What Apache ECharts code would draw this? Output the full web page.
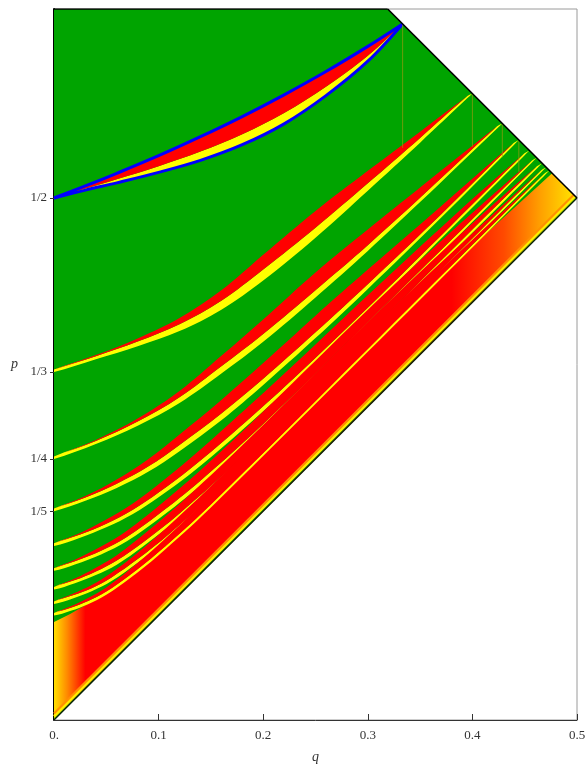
<!DOCTYPE html>
<html><head><meta charset="utf-8">
<script src="https://cdn.jsdelivr.net/npm/echarts@6/dist/echarts.min.js"></script>
<style>html,body{margin:0;padding:0;background:#fff}#c{width:587px;height:768px}</style>
</head><body><div id="c"></div>
<script>
// ---- axes ----
const xTickValues = [0, 0.1, 0.2, 0.3, 0.4, 0.5];
const xTickLabels = ['0.', '0.1', '0.2', '0.3', '0.4', '0.5'];
const yTickValues = [0.5, 0.33333, 0.25, 0.2];
const yTickLabels = ['1/2', '1/3', '1/4', '1/5'];
const pMax = 0.681;

// ---- band starting at 1/2 (outer edges blue) ----
const q2   = [0, 0.03, 0.06, 0.1, 0.14, 0.18, 0.22, 0.26, 0.30, 0.3333];
const top2 = [0.5, 0.5115, 0.5236, 0.5405, 0.5587, 0.5780, 0.5988, 0.6211, 0.6452, 0.6667];
const mid2 = [0.5, 0.5090, 0.5179, 0.5304, 0.5444, 0.5610, 0.5813, 0.6065, 0.6363, 0.6667];
const low2 = [0.5, 0.5075, 0.5145, 0.5245, 0.5360, 0.5510, 0.5710, 0.5980, 0.6310, 0.6667];

// ---- bands starting at 1/n : lower yellow edge, yellow width, red width ----
const q3   = [0, 0.04, 0.08, 0.12, 0.16, 0.2, 0.25, 0.3, 0.35, 0.395, 0.4];
const low3 = [0.3333, 0.3455, 0.358, 0.3725, 0.393, 0.421, 0.462, 0.507, 0.553, 0.5954, 0.6];
const yel3 = [0.0025, 0.003, 0.0045, 0.0065, 0.0085, 0.0105, 0.0095, 0.007, 0.0045, 0.002, 0];
const red3 = [0, 0.001, 0.003, 0.006, 0.010, 0.014, 0.016, 0.012, 0.006, 0, 0];

const q4   = [0, 0.04, 0.08, 0.12, 0.16, 0.2, 0.25, 0.3, 0.35, 0.4236, 0.4286];
const low4 = [0.25, 0.2643, 0.2818, 0.3036, 0.3318, 0.3622, 0.4047, 0.4493, 0.4961, 0.5666, 0.5714];
const yel4 = [0.0025, 0.003, 0.004, 0.0055, 0.007, 0.0075, 0.007, 0.0055, 0.004, 0.002, 0];
const red4 = [0, 0.001, 0.003, 0.006, 0.010, 0.014, 0.017, 0.015, 0.010, 0, 0];

const q5   = [0, 0.03, 0.06, 0.09, 0.12, 0.16, 0.2, 0.25, 0.3, 0.37, 0.4394, 0.4444];
const low5 = [0.2, 0.21, 0.2223, 0.2377, 0.2575, 0.2871, 0.3209, 0.3658, 0.4129, 0.4811, 0.5506, 0.5556];
const yel5 = [0.0025, 0.003, 0.004, 0.005, 0.006, 0.0065, 0.006, 0.0055, 0.0045, 0.003, 0.002, 0];
const red5 = [0, 0.0015, 0.004, 0.007, 0.010, 0.013, 0.015, 0.016, 0.014, 0.008, 0, 0];

const q6   = [0, 0.025, 0.05, 0.075, 0.1, 0.13, 0.17, 0.22, 0.3, 0.38, 0.4495, 0.4545];
const low6 = [0.1667, 0.1746, 0.1845, 0.1971, 0.2134, 0.2354, 0.2689, 0.3141, 0.3909, 0.4709, 0.5405, 0.5455];
const yel6 = [0.0025, 0.003, 0.0035, 0.004, 0.0045, 0.005, 0.005, 0.0045, 0.004, 0.003, 0.002, 0];
const red6 = [0, 0.0015, 0.004, 0.006, 0.008, 0.010, 0.012, 0.013, 0.012, 0.007, 0, 0];

const q7   = [0, 0.02, 0.045, 0.07, 0.1, 0.14, 0.2, 0.3, 0.38, 0.4565, 0.4615];
const low7 = [0.1429, 0.149, 0.1586, 0.1715, 0.1925, 0.2246, 0.2789, 0.3769, 0.4569, 0.5335, 0.5385];
const yel7 = [0.0025, 0.003, 0.0035, 0.004, 0.0045, 0.0045, 0.0045, 0.004, 0.003, 0.002, 0];
const red7 = [0, 0.0015, 0.004, 0.006, 0.008, 0.010, 0.012, 0.012, 0.008, 0, 0];

const q8   = [0, 0.02, 0.04, 0.06, 0.085, 0.12, 0.18, 0.3, 0.4, 0.4617, 0.4667];
const low8 = [0.125, 0.131, 0.1388, 0.1488, 0.1661, 0.1939, 0.2482, 0.3667, 0.4667, 0.5283, 0.5333];
const yel8 = [0.0025, 0.003, 0.0035, 0.004, 0.004, 0.004, 0.004, 0.0035, 0.003, 0.002, 0];
const red8 = [0, 0.0015, 0.0035, 0.005, 0.007, 0.009, 0.011, 0.011, 0.006, 0, 0];

const q9   = [0, 0.018, 0.036, 0.055, 0.08, 0.11, 0.16, 0.3, 0.4, 0.4656, 0.4706];
const low9 = [0.1111, 0.1164, 0.1233, 0.1331, 0.1506, 0.1747, 0.2202, 0.3588, 0.4588, 0.5244, 0.5294];
const yel9 = [0.0025, 0.003, 0.003, 0.0035, 0.0035, 0.0035, 0.0035, 0.003, 0.0025, 0.002, 0];
const red9 = [0, 0.0015, 0.003, 0.0045, 0.006, 0.008, 0.010, 0.010, 0.005, 0, 0];

const q10   = [0, 0.016, 0.032, 0.05, 0.072, 0.1, 0.15, 0.3, 0.4, 0.4687, 0.4737];
const low10 = [0.1, 0.1046, 0.1107, 0.12, 0.1353, 0.1578, 0.2035, 0.3526, 0.4526, 0.5213, 0.5263];
const yel10 = [0.0025, 0.0028, 0.003, 0.003, 0.003, 0.003, 0.003, 0.0028, 0.0025, 0.002, 0];
const red10 = [0, 0.0015, 0.003, 0.004, 0.0055, 0.007, 0.009, 0.009, 0.005, 0, 0];

// ---- upper edge of the dense fan of higher bands ----
const fanQ = [0, 0.015, 0.03, 0.045, 0.065, 0.09, 0.14, 0.3, 0.4762];
const fanP = [0.0939, 0.1012, 0.1099, 0.1206, 0.1364, 0.1588, 0.2052, 0.3626, 0.5238];

// ---- faint vertical lines ----
const vLineQ  = [0.3333, 0.4, 0.4286, 0.4444];
const vLineP0 = [0.548, 0.549, 0.539, 0.525];
const vLineP1 = [0.6667, 0.6, 0.5714, 0.5556];

// ---- stripes along the diagonal p = q ----
const diagOffsets = [0.0013, 0.0036, 0.0062];
const diagColors  = ['#00a400', '#ffee00', '#ff9000'];
const diagWidths  = [1, 2.5, 2.2];

const RED = '#ff0000', YELLOW = '#ffff00', GREEN = '#00a400', BLUE = '#0000ff';

const polys = [];
polys.push({pts: [[0, 0], [0, pMax], [1 - pMax, pMax], [0.5, 0.5]], fill: GREEN, smooth: 0});
const fanGrad = new echarts.graphic.LinearGradient(0, 0, 1, 0, [
  {offset: 0, color: '#ffe000'}, {offset: 0.025, color: '#ff8a00'}, {offset: 0.06, color: '#ff0000'},
  {offset: 0.76, color: '#ff0000'}, {offset: 0.86, color: '#ff4a00'}, {offset: 0.93, color: '#ffa000'},
  {offset: 1, color: '#ffe800'}
]);
polys.push({pts: fanQ.map((x, i) => [x, fanP[i]]).concat([[0.5, 0.5], [0, 0]]), fill: fanGrad, smooth: 0});

function pts(q, a) { return q.map((x, i) => [x, a[i]]); }
// band 2
polys.push({pts: pts(q2, low2).concat(pts(q2, mid2).reverse()), fill: YELLOW, smooth: 0.35});
polys.push({pts: pts(q2, mid2).concat(pts(q2, top2).reverse()), fill: RED, smooth: 0.35});
function addBand(q, low, yel, red) {
  const yb = low.map((v, i) => v + yel[i]);
  const rt = yb.map((v, i) => v + red[i]);
  polys.push({pts: pts(q, low).concat(pts(q, yb).reverse()), fill: YELLOW, smooth: 0.35});
  polys.push({pts: pts(q, yb).concat(pts(q, rt).reverse()), fill: RED, smooth: 0.35});
}
addBand(q3, low3, yel3, red3);
addBand(q4, low4, yel4, red4);
addBand(q5, low5, yel5, red5);
addBand(q6, low6, yel6, red6);
addBand(q7, low7, yel7, red7);
addBand(q8, low8, yel8, red8);
addBand(q9, low9, yel9, red9);
addBand(q10, low10, yel10, red10);

const series = [];
series.push({
  type: 'custom', coordinateSystem: 'cartesian2d', clip: true, silent: true,
  data: polys.map(p => p.pts[0]),
  renderItem: function (params, api) {
    const poly = polys[params.dataIndex];
    return {type: 'polygon', shape: {points: poly.pts.map(pt => api.coord(pt)), smooth: poly.smooth},
            style: {fill: poly.fill, stroke: null}};
  }
});
function seg(data, color, width, opacity, smooth) {
  series.push({type: 'line', data: data, showSymbol: false, silent: true, smooth: smooth || false,
    lineStyle: {color: color, width: width, opacity: opacity == null ? 1 : opacity}, z: 3});
}
seg(pts(q2, top2), BLUE, 3, 1, 0.35);
seg(pts(q2, low2), BLUE, 3, 1, 0.35);
vLineQ.forEach((x, i) => seg([[x, vLineP0[i]], [x, vLineP1[i]]], '#9a9a10', 1, 0.7));
diagOffsets.forEach((d, i) => seg([[0, d], [0.5 - d / 2, 0.5 + d / 2]], diagColors[i], diagWidths[i], 1));
seg([[0, 0], [0.5, 0.5]], '#0a200a', 1.2, 1);
seg([[1 - pMax, pMax], [0.5, 0.5]], '#000', 1.6, 1);
seg([[0, pMax], [1 - pMax, pMax]], '#000', 1.6, 1);

const serif = 'Liberation Serif';
const option = {
  animation: false,
  backgroundColor: '#fff',
  grid: {left: 54, right: 10, top: 9, bottom: 48, show: true, borderColor: '#9a9a9a', borderWidth: 1,
         outerBoundsMode: 'none', containLabel: false},
  xAxis: {
    type: 'value', min: 0, max: 0.5, interval: 0.1,
    name: 'q', nameLocation: 'middle', nameGap: 30,
    nameTextStyle: {fontFamily: serif, fontStyle: 'italic', fontSize: 14, color: '#333'},
    axisLine: {show: true, lineStyle: {color: '#333', width: 1}},
    axisTick: {show: true, inside: true, length: 6, lineStyle: {color: '#333'}},
    axisLabel: {fontFamily: serif, fontSize: 13, color: '#333', margin: 9,
      formatter: v => { const i = xTickValues.findIndex(t => Math.abs(t - v) < 1e-6); return i >= 0 ? xTickLabels[i] : ''; }},
    splitLine: {show: false}
  },
  yAxis: {
    type: 'value', min: 0, max: pMax,
    name: 'p', nameLocation: 'middle', nameGap: 36, nameRotate: 0,
    nameTextStyle: {fontFamily: serif, fontStyle: 'italic', fontSize: 14, color: '#333'},
    axisLine: {show: true, lineStyle: {color: '#000', width: 2}},
    axisTick: {show: true, inside: false, length: 4, customValues: yTickValues, lineStyle: {color: '#333'}},
    axisLabel: {fontFamily: serif, fontSize: 13, color: '#333', margin: 7, customValues: yTickValues,
      formatter: v => { const i = yTickValues.findIndex(t => Math.abs(t - v) < 1e-4); return i >= 0 ? yTickLabels[i] : ''; }},
    splitLine: {show: false}
  },
  series: series
};
const chart = echarts.init(document.getElementById('c'));
chart.setOption(option);
</script></body></html>
